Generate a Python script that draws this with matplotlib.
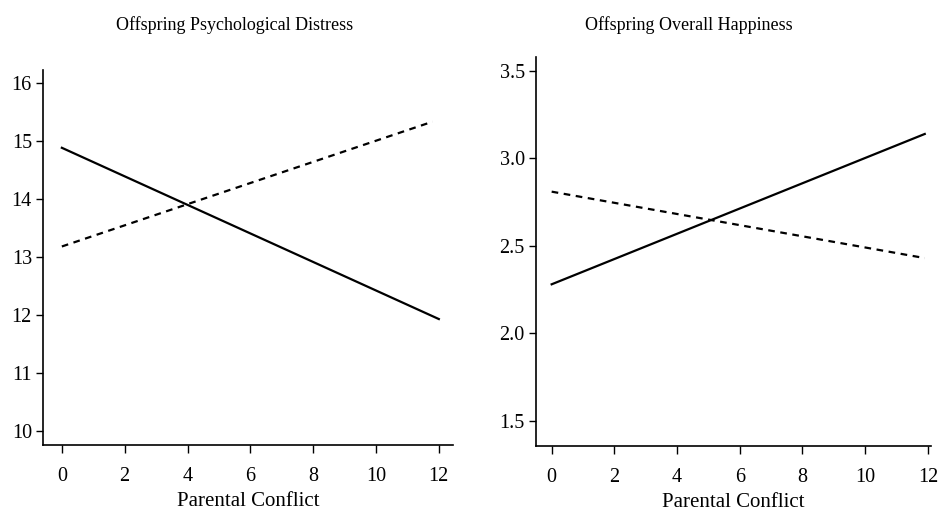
import numpy as np
import matplotlib
matplotlib.use('Agg')
import matplotlib.pyplot as plt

plt.rcParams['font.family'] = ['Liberation Serif', 'DejaVu Serif']

# endpoints of the fitted lines
conflict = [0, 12]
distress_solid = [14.88, 11.93]
distress_dash_x = [0, 11.8]
distress_dash = [13.18, 15.33]

happy_x = [0, 11.9]
happy_solid = [2.28, 3.14]
happy_dash = [2.81, 2.43]

xticks = [0, 2, 4, 6, 8, 10, 12]
distress_ticks = [10, 11, 12, 13, 14, 15, 16]
happy_ticks = [1.5, 2.0, 2.5, 3.0, 3.5]

fig = plt.figure(figsize=(9.39, 5.14), dpi=100)
ax1 = fig.add_axes([0.0458, 0.1342, 0.4366, 0.7296])
ax2 = fig.add_axes([0.5708, 0.1323, 0.4207, 0.7567])

ax1.plot(conflict, distress_solid, color='black', lw=1.6)
ax1.plot(distress_dash_x, distress_dash, color='black', lw=1.6, dashes=(3, 2.5))
ax1.set_xlim(-0.6, 12.45)
ax1.set_ylim(9.76, 16.22)
ax1.set_yticks(distress_ticks)

ax2.plot(happy_x, happy_solid, color='black', lw=1.6)
ax2.plot(happy_x, happy_dash, color='black', lw=1.6, dashes=(3, 2.5))
ax2.set_xlim(-0.5, 12.1)
ax2.set_ylim(1.355, 3.58)
ax2.set_yticks(happy_ticks)
ax2.set_yticklabels(['%.1f' % v for v in happy_ticks])

for ax in (ax1, ax2):
    ax.set_xticks(xticks)
    ax.spines['top'].set_visible(False)
    ax.spines['right'].set_visible(False)
    ax.spines['left'].set_linewidth(1.2)
    ax.spines['bottom'].set_linewidth(1.2)
    ax.tick_params(axis='y', direction='out', length=5, width=1, labelsize=14.5, pad=3)
    ax.tick_params(axis='x', direction='out', length=5.5, width=1, labelsize=14.5, pad=10)
    ax.set_xlabel('Parental Conflict', fontsize=15, labelpad=5)

fig.text(0.250, 0.952, 'Offspring Psychological Distress', ha='center', va='center', fontsize=13)
fig.text(0.734, 0.952, 'Offspring Overall Happiness', ha='center', va='center', fontsize=13)

fig.savefig('out.png', dpi=100)
